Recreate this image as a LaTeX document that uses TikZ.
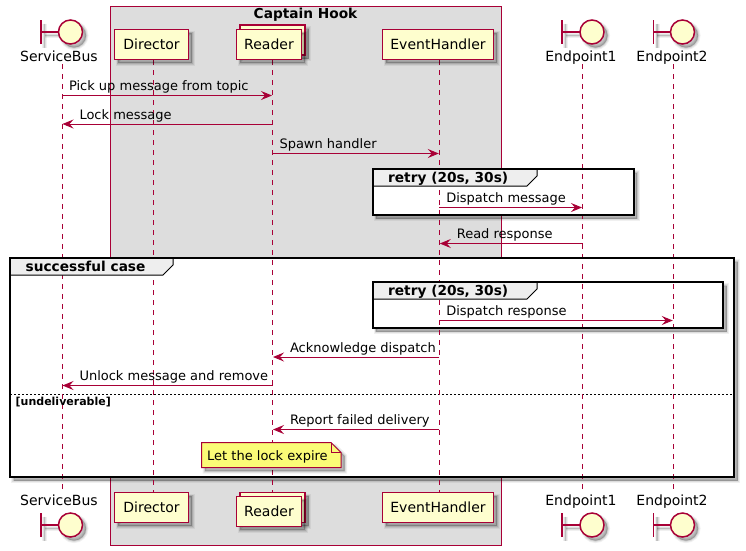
\documentclass[tikz,border=0pt]{standalone}
\usepackage{fontspec}
\setmainfont{DejaVu Sans}
\usetikzlibrary{arrows.meta}
\definecolor{pu}{HTML}{A80036}
\definecolor{pubox}{HTML}{DDDDDD}
\definecolor{pupart}{HTML}{FEFECE}
\definecolor{punote}{HTML}{FBFB77}
\definecolor{puhead}{HTML}{EEEEEE}
\tikzset{
  softshadow/.style={
    preaction={draw=black,fill=black,opacity=.06,line width=5pt,transform canvas={shift={(3.5pt,-3.5pt)}}},
    preaction={draw=black,fill=black,opacity=.08,line width=3pt,transform canvas={shift={(3.5pt,-3.5pt)}}},
    preaction={draw=black,fill=black,opacity=.11,line width=1.2pt,transform canvas={shift={(3.5pt,-3.5pt)}}}},
  partbox/.style={rectangle,draw=pu,fill=pupart,line width=1.5pt,inner sep=0pt,minimum height=30pt,font=\fontsize{14}{16}\selectfont,softshadow},
  actorlabel/.style={inner sep=0pt,font=\fontsize{14}{16}\selectfont,anchor=base},
  actorline/.style={draw=pu,line width=1.5pt,line cap=butt},
  life/.style={draw=pu,line width=1pt,dash pattern=on 5pt off 5pt},
  msg/.style={draw=pu,line width=1pt,shorten >=.5pt,-{Stealth[length=11pt,width=9pt,inset=4pt,fill=pu]}},
  msglabel/.style={inner sep=0pt,text=black,font=\fontsize{13}{15}\selectfont,anchor=base west},
  groupframe/.style={draw=black,fill=white,line width=2pt,softshadow},
  grouphead/.style={draw=black,fill=puhead,line width=1pt},
  grouptitle/.style={inner sep=0pt,font=\fontsize{13.7}{15}\selectfont\bfseries,anchor=base west},
  notebody/.style={draw=pu,fill=punote,line width=1pt,softshadow},
}
\newcommand{\boundaryicon}[4]{%
  \draw[actorline,softshadow] (#2,#3) -- (#2,#3+24);
  \draw[actorline,softshadow] (#2,#3+12) -- (#4-12,#3+12);
  \node[circle,draw=pu,fill=pupart,line width=1.5pt,minimum size=24pt,inner sep=0pt,softshadow] (#1) at (#4,#3+12) {};
}
\newcommand{\msgfwd}[5]{%
  \coordinate (#1a) at (#2 |- 0,#4);
  \coordinate (#1b) at (#3 |- 0,#4);
  \draw[msg] (#1a) -- (#1b) node[pos=0,msglabel,xshift=6.5pt,yshift=5pt] (#1) {#5};
}
\newcommand{\msgback}[5]{%
  \coordinate (#1a) at (#2 |- 0,#4);
  \coordinate (#1b) at (#3 |- 0,#4);
  \draw[msg] (#1a) -- (#1b) node[pos=1,msglabel,xshift=17pt,yshift=5pt] (#1) {#5};
}
% frame body, drawn under the lifelines
\newcommand{\groupbody}[4]{%
  \draw[groupframe] (#1,#2) rectangle (#3,#4);
}
% frame border and title tab, drawn over the lifelines
\newcommand{\grouptop}[7]{%
  \draw[grouphead] (#2,#3) -- (#6,#3) -- (#6,#3+7) -- (#6-10,#3+17) -- (#2,#3+17) -- cycle;
  \draw[draw=black,line width=2pt] (#2,#3) rectangle (#4,#5);
  \node[grouptitle] (#1) at (#2+15.5,#3+13) {#7};
}
\begin{document}
\begin{tikzpicture}[x=1pt,y=-1pt]
\useasboundingbox (0,0) rectangle (746,550);
\fill[white] (0,0) rectangle (746,550);
\coordinate (sbx) at (62,0);
\coordinate (dirx) at (153.3,0);
\coordinate (readx) at (272.5,0);
\coordinate (evx) at (439.3,0);
\coordinate (ep1x) at (582.5,0);
\coordinate (ep2x) at (673.3,0);
% grouping box
\draw[draw=pu,fill=pubox,line width=1pt] (110.5,6.5) rectangle (501.5,545.5);
\node[inner sep=0pt,font=\fontsize{13.7}{15}\selectfont\bfseries,anchor=base] (hook) at (305.5,18.7) {Captain Hook};
% frame bodies
\groupbody{372.5}{169}{633.5}{215}
\groupbody{10}{258}{734}{477}
\groupbody{372.5}{282}{723}{328}
\draw[draw=black,line width=1pt,dash pattern=on 2pt off 2pt] (10,394) -- (734,394);
% lifelines
\foreach \n/\t/\b in {sbx/64/490,dirx/60/492,readx/60/492,evx/60/492,ep1x/64/490,ep2x/64/490}{
  \coordinate (\n T) at (\n |- 0,\t);
  \coordinate (\n B) at (\n |- 0,\b);
  \draw[life] (\n T) -- (\n B);
}
% frame borders and tabs
\grouptop{retryA}{372.5}{169}{633.5}{215}{537}{retry (20s, 30s)}
\grouptop{success}{10}{258}{734}{477}{173}{successful case}
\grouptop{retryB}{372.5}{282}{723}{328}{537}{retry (20s, 30s)}
\node[inner sep=0pt,font=\fontsize{11}{13}\selectfont\bfseries,anchor=base west] (undel) at (15.5,405.5) {[undeliverable]};
% messages
\msgfwd{mA}{sbx}{readx}{95.5}{Pick up message from topic}
\msgback{mB}{readx}{sbx}{124}{Lock message}
\msgfwd{mC}{readx}{evx}{153.5}{Spawn handler}
\msgfwd{mD}{evx}{ep1x}{207.5}{Dispatch message}
\msgback{mE}{ep1x}{evx}{243.5}{Read response}
\msgfwd{mF}{evx}{ep2x}{320.5}{Dispatch response}
\msgback{mG}{evx}{readx}{357}{Acknowledge dispatch}
\msgback{mH}{readx}{sbx}{385.5}{Unlock message and remove}
\msgback{mI}{evx}{readx}{429.5}{Report failed delivery}
% note
\draw[notebody] (201.5,442.5) -- (331,442.5) -- (341,452.5) -- (341,467.5) -- (201.5,467.5) -- cycle;
\draw[draw=pu,line width=1pt] (331,442.5) -- (331,452.5) -- (341,452.5);
\node[msglabel] (noteT) at (207,460) {Let the lock expire};
% top participants
\boundaryicon{sbI}{41}{20}{70.5}
\node[actorlabel] (sbL) at (59,61) {ServiceBus};
\node[partbox,minimum width=74pt] (dirT) at (151.5,44.5) {Director};
\node[partbox,minimum width=65pt] (readTb) at (272.5,40) {};
\node[partbox,minimum width=65pt] (readT) at (269,44.5) {Reader};
\node[partbox,minimum width=111pt] (evT) at (438,44.5) {EventHandler};
\boundaryicon{epaI}{562}{20}{592}
\node[actorlabel] (epaL) at (581,61) {Endpoint1};
\boundaryicon{epbI}{653.5}{20}{682.5}
\node[actorlabel] (epbL) at (672,61) {Endpoint2};
% bottom participants
\node[actorlabel] (sbF) at (59,505) {ServiceBus};
\boundaryicon{sbJ}{41}{513}{70.5}
\node[partbox,minimum width=74pt] (dirF) at (151.5,507.5) {Director};
\node[partbox,minimum width=65pt] (readFb) at (272.5,507.5) {};
\node[partbox,minimum width=65pt] (readF) at (269,511.5) {Reader};
\node[partbox,minimum width=111pt] (evF) at (438,507.5) {EventHandler};
\node[actorlabel] (epaF) at (581,505) {Endpoint1};
\boundaryicon{epaJ}{562}{513}{592}
\node[actorlabel] (epbF) at (672,505) {Endpoint2};
\boundaryicon{epbJ}{653.5}{513}{682.5}
\end{tikzpicture}
\end{document}
